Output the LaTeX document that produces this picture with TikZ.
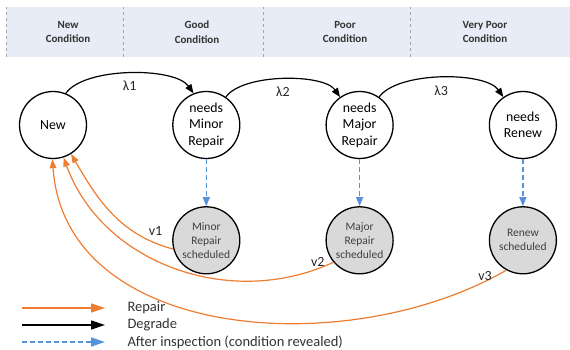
\documentclass[tikz,border=0pt]{standalone}
\usepackage{fontspec}
\setmainfont{Carlito}
\usetikzlibrary{positioning, arrows.meta}

\definecolor{repair_orange}{RGB}{237,125,49}
\definecolor{inspect_blue}{RGB}{86,145,218}
\definecolor{header_blue}{RGB}{231,236,246}
\definecolor{sched_gray}{RGB}{217,217,217}

\tikzset{
    state/.style={circle, draw=black, line width=1.3pt, minimum size=67pt, inner sep=0pt, align=center, font=\fontsize{13.8}{16.5}\selectfont},
    scheduled/.style={state, fill=sched_gray, text=black!75, font=\fontsize{11.5}{14}\selectfont},
    degrade/.style={-{Triangle[length=9pt,width=7pt]}, line width=1.2pt},
    repair/.style={-{Triangle[length=9pt,width=6.5pt]}, draw=repair_orange, line width=1.2pt},
    inspect/.style={-{Triangle[length=9pt,width=7pt]}, draw=inspect_blue, line width=1.4pt, dash pattern=on 5pt off 3pt},
    legend_tip/.style={-{Triangle[length=14pt,width=9pt]}, line width=1.4pt},
    header/.style={align=center, text=black!80, font=\fontsize{11}{14.5}\selectfont\bfseries},
    rate/.style={text=black!85, font=\fontsize{14}{16}\selectfont},
    legend_text/.style={text=black!80, font=\fontsize{14.5}{16}\selectfont}
}

\begin{document}
\begin{tikzpicture}[x=1pt, y=1pt]
    \useasboundingbox (0,0) rectangle (570,350);

    % condition header
    \fill[header_blue] (6,293) rectangle (570,343);
    \foreach \xpos in {6,123,263,410}
        \draw[gray!70, dashed, line width=0.6pt] (\xpos,293) -- (\xpos,343);
    \node[header] (new_cond) at (68,318) {New\\Condition};
    \node[header] (good_cond) at (197,318) {Good\\Condition};
    \node[header] (poor_cond) at (345,318) {Poor\\Condition};
    \node[header] (vpoor_cond) at (485,318) {Very Poor\\Condition};

    % states
    \node[state] (new) at (53,225) {New};
    \node[state, right=85pt of new] (minor) {needs\\Minor\\Repair};
    \node[state, right=85pt of minor] (major) {needs\\Major\\Repair};
    \node[state, right=95pt of major] (renew) {needs\\Renew};

    \node[scheduled, below=47pt of minor] (minor_sched) {Minor\\Repair\\scheduled};
    \node[scheduled, below=47pt of major] (major_sched) {Major\\Repair\\scheduled};
    \node[scheduled, below=47pt of renew] (renew_sched) {Renew\\scheduled};

    % degrade
    \draw[degrade] (new.68) to[out=55, in=125, looseness=0.65] node[rate, below=4pt] {λ1} (minor.112);
    \draw[degrade] (minor.55) to[out=55, in=125, looseness=0.65] node[rate, below=4pt] {λ2} (major.125);
    \draw[degrade] (major.55) to[out=55, in=125, looseness=0.65] node[rate, below=4pt] {λ3} (renew.125);

    % inspection
    \draw[inspect] (minor) -- (minor_sched);
    \draw[inspect] (major) -- (major_sched);
    \draw[inspect] (renew) -- (renew_sched);

    % repair
    \draw[repair] (minor_sched.195) to[out=165, in=-60] node[rate, pos=0.12, above=4pt] {v1} (new.-58);
    \draw[repair] (major_sched.220) to[out=205, in=-70] node[rate, pos=0, left=5pt] {v2} (new.-72);
    \draw[repair] (renew_sched.241) to[out=210, in=-86] node[rate, pos=0.02, left=1pt] {v3} (new.-91);

    % legend
    \coordinate (leg_repair_a) at (22,42);
    \coordinate (leg_repair_b) at (105,42);
    \coordinate (leg_degrade_a) at (22,25);
    \coordinate (leg_degrade_b) at (105,25);
    \coordinate (leg_inspect_a) at (22,8);
    \coordinate (leg_inspect_b) at (105,8);
    \draw[repair, legend_tip] (leg_repair_a) -- (leg_repair_b);
    \draw[degrade, legend_tip] (leg_degrade_a) -- (leg_degrade_b);
    \draw[inspect, legend_tip] (leg_inspect_a) -- (leg_inspect_b);
    \node[legend_text, right=19pt of leg_repair_b] (leg_repair) {Repair};
    \node[legend_text, right=19pt of leg_degrade_b] (leg_degrade) {Degrade};
    \node[legend_text, right=19pt of leg_inspect_b] (leg_inspect) {After inspection (condition revealed)};
\end{tikzpicture}
\end{document}
